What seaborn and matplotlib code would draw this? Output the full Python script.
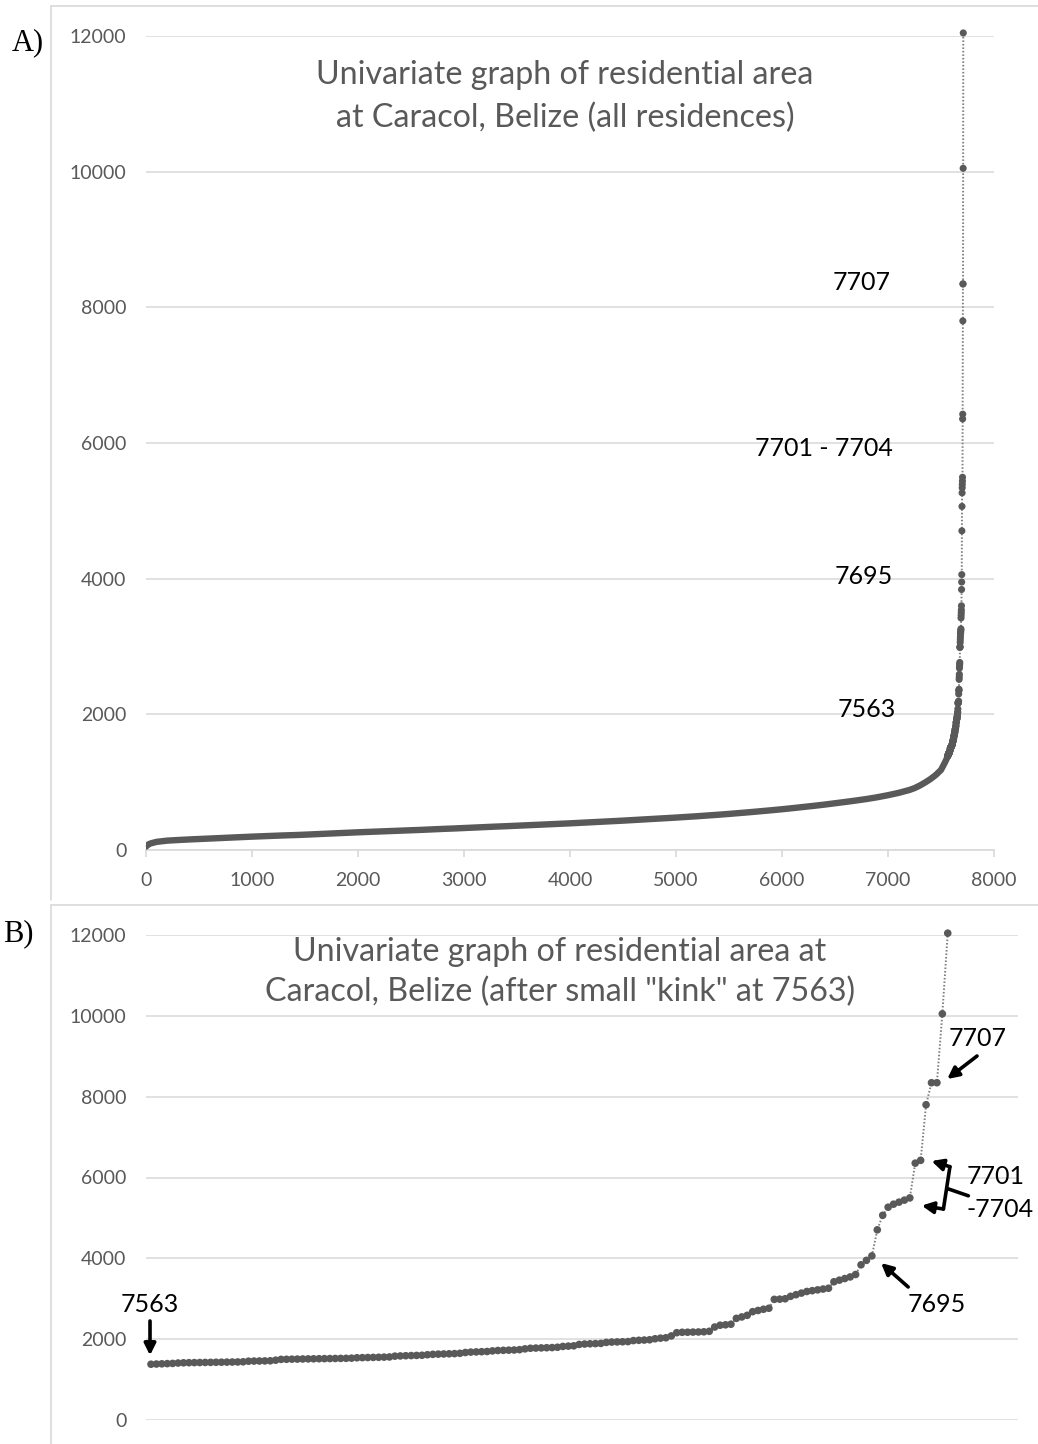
import matplotlib
matplotlib.use("Agg")
import matplotlib.pyplot as plt
from matplotlib.lines import Line2D
import seaborn as sns
import pandas as pd

# ---- data: residential area (m^2) ordered by rank ----
# lower ranks (sampled along the rank order)
rank_low = [0, 25, 50, 100, 200, 300, 400, 500, 600, 700, 800, 900, 1000,
            1100, 1200, 1300, 1400, 1500, 1600, 1700, 1800, 1900, 2000,
            2100, 2200, 2300, 2400, 2500, 2600, 2700, 2800, 2900, 3000,
            3100, 3200, 3300, 3400, 3500, 3600, 3700, 3800, 3900, 4000,
            4100, 4200, 4300, 4400, 4500, 4600, 4700, 4800, 4900, 5000,
            5100, 5200, 5300, 5400, 5500, 5600, 5700, 5800, 5900, 6000,
            6100, 6200, 6300, 6400, 6500, 6600, 6700, 6800, 6900, 7000,
            7100, 7200, 7250, 7300, 7350, 7400, 7450, 7500, 7520, 7540, 7555]
area_low = [50, 85, 100, 120, 138, 147, 155, 162, 169, 176, 183, 190, 197,
            203, 209, 215, 220, 226, 233, 240, 247, 254, 261,
            267, 273, 279, 285, 291, 297, 304, 311, 317, 324,
            331, 338, 345, 351, 358, 365, 372, 379, 386, 393,
            401, 409, 417, 425, 433, 442, 451, 460, 469, 478,
            488, 498, 509, 520, 532, 545, 558, 572, 586, 601,
            617, 634, 651, 669, 689, 709, 730, 752, 778, 808,
            842, 884, 912, 950, 995, 1045, 1105, 1180, 1240, 1300, 1350]

# upper ranks, one value per residence after the "kink" at 7563
rank_top = list(range(7563, 7711))
area_top = [1380, 1385, 1390, 1395, 1400, 1410, 1415, 1418, 1420, 1422, 1424,
            1426, 1428, 1430, 1432, 1434, 1436, 1440,
            1455, 1458, 1460, 1462, 1465,
            1480, 1500, 1502, 1505, 1507, 1510, 1512, 1514, 1516, 1518, 1520,
            1522, 1524, 1526, 1530,
            1540, 1543, 1546, 1549, 1552, 1556, 1560,
            1580, 1585, 1590, 1594, 1598, 1602,
            1615, 1625, 1630, 1634, 1638, 1642, 1650,
            1670, 1680, 1685, 1690, 1695,
            1710, 1720, 1724, 1728, 1732, 1740,
            1760, 1775, 1780, 1784, 1788, 1792, 1800,
            1820, 1828, 1835,
            1870, 1880, 1886, 1890, 1895,
            1920, 1928, 1932, 1936, 1940,
            1965, 1972, 1978, 1985,
            2010, 2025, 2035, 2080,
            2160, 2170, 2172, 2175, 2178, 2182, 2195,
            2300, 2345, 2355, 2370,
            2515, 2550, 2590, 2680, 2710, 2740, 2765,
            2985, 2990, 3000,
            3060, 3100, 3140, 3180, 3200, 3220, 3240, 3260,
            3420, 3460, 3500, 3540, 3600, 3840, 3950,
            4060, 4705, 5065, 5265, 5340, 5390, 5440, 5495,
            6355, 6425, 7800, 8345, 8345, 10050, 12045]

x_ticks_a = [0, 1000, 2000, 3000, 4000, 5000, 6000, 7000, 8000]
y_ticks = [0, 2000, 4000, 6000, 8000, 10000, 12000]

title_a = ["Univariate graph of residential area",
           "at Caracol, Belize (all residences)"]
title_b = ["Univariate graph of residential area at",
           'Caracol, Belize (after small "kink" at 7563)']

low = pd.DataFrame({"rank": rank_low, "area": area_low})
top = pd.DataFrame({"rank": rank_top, "area": area_top})
full = pd.concat([low, top], ignore_index=True)

# ---- style ----
sns.set_theme(style="white")
plt.rcParams["font.family"] = ["Lato", "DejaVu Sans"]

MARK = "#595959"
DOT = "#7f7f7f"
GRID = "#d9d9d9"
TXT = "#595959"
TICK_FS = 14
TITLE_FS = 23.2
NOTE_FS = 18

W, H = 1038, 1444
fig = plt.figure(figsize=(W / 100, H / 100), dpi=100)


def box(l, t, r, b):
    return [l / W, 1 - b / H, (r - l) / W, (b - t) / H]


def px_line(x0, y0, x1, y1):
    fig.add_artist(Line2D([x0 / W, x1 / W], [1 - y0 / H, 1 - y1 / H],
                          transform=fig.transFigure, color=GRID, lw=1.2))


# chart-area borders
px_line(51, 6, 1038, 6)
px_line(51, 6, 51, 900)
px_line(51, 905, 1038, 905)
px_line(51, 905, 51, 1444)

axA = fig.add_axes(box(146, 36, 994, 850))
axB = fig.add_axes(box(146, 935, 1018, 1420))

for ax in (axA, axB):
    ax.set_facecolor("none")
    ax.set_ylim(0, 12000)
    ax.set_yticks(y_ticks)
    ax.set_yticklabels([str(v) for v in y_ticks])
    ax.grid(axis="y", color=GRID, lw=1.1)
    ax.grid(axis="x", visible=False)
    for s in ("left", "right", "top", "bottom"):
        ax.spines[s].set_visible(False)
    ax.tick_params(axis="y", length=0, pad=14, labelsize=TICK_FS,
                   labelcolor=TXT)

# ---- panel A: all residences ----
sns.lineplot(data=full, x="rank", y="area", ax=axA, color=DOT, lw=1.4,
             linestyle=(0, (0.8, 1.0)), estimator=None, sort=True, zorder=2,
             clip_on=False)
sns.lineplot(data=low, x="rank", y="area", ax=axA, color=MARK, lw=4.6,
             estimator=None, sort=True, zorder=3,
             solid_capstyle="round", solid_joinstyle="round")
sns.scatterplot(data=top, x="rank", y="area", ax=axA, color=MARK, s=26,
                edgecolor="none", zorder=4, clip_on=False)
axA.set_xlim(0, 8000)
axA.set_xticks(x_ticks_a)
axA.set_xticklabels([str(v) for v in x_ticks_a])
axA.spines["bottom"].set_visible(True)
axA.spines["bottom"].set_color(GRID)
axA.spines["bottom"].set_linewidth(1.2)
axA.tick_params(axis="x", bottom=True, length=5, width=1.2, color=GRID,
                pad=11, labelsize=TICK_FS, labelcolor=TXT)
axA.set_xlabel("")
axA.set_ylabel("")

axA.text(3953, 11425, title_a[0], ha="center", va="center",
         fontsize=TITLE_FS, color=TXT)
axA.text(3953, 10791, title_a[1], ha="center", va="center",
         fontsize=TITLE_FS, color=TXT)

for label, xr, yv in [("7707", 7028, 8359), ("7701 - 7704", 7047, 5912),
                      ("7695", 7047, 4039), ("7563", 7075, 2075)]:
    axA.text(xr, yv, label, ha="right", va="center", fontsize=NOTE_FS,
             color="black")

# ---- panel B: after the kink ----
sns.lineplot(data=top, x="rank", y="area", ax=axB, color=DOT, lw=1.4,
             linestyle=(0, (0.8, 1.0)), estimator=None, sort=True, zorder=2,
             clip_on=False)
sns.scatterplot(data=top, x="rank", y="area", ax=axB, color=MARK, s=30,
                edgecolor="none", zorder=4, clip_on=False)
axB.set_xlim(7562.08, 7722.96)
axB.set_xticks([])
axB.set_xlabel("")
axB.set_ylabel("")

axB.text(7638.46, 11579, title_b[0], ha="center", va="center",
         fontsize=TITLE_FS, color=TXT)
axB.text(7638.46, 10590, title_b[1], ha="center", va="center",
         fontsize=TITLE_FS, color=TXT)

arrow = dict(arrowstyle="-|>", color="black", lw=2.6, mutation_scale=17,
             shrinkA=0, shrinkB=0)
plain = dict(arrowstyle="-", color="black", lw=2.6, shrinkA=0, shrinkB=0)

axB.text(7562.82, 2870, "7563", ha="center", va="center", fontsize=NOTE_FS,
         color="black")
axB.annotate("", xy=(7562.82, 1600), xytext=(7562.82, 2450),
             arrowprops=arrow)

axB.text(7708.0, 2870, "7695", ha="center", va="center", fontsize=NOTE_FS,
         color="black")
axB.annotate("", xy=(7697.7, 3884), xytext=(7702.7, 3291), arrowprops=arrow)

axB.text(7715.6, 9451, "7707", ha="center", va="center", fontsize=NOTE_FS,
         color="black")
axB.annotate("", xy=(7709.9, 8437), xytext=(7715.4, 9006), arrowprops=arrow)

axB.text(7713.55, 6037, "7701", ha="left", va="center", fontsize=NOTE_FS,
         color="black")
axB.text(7713.55, 5220, "-7704", ha="left", va="center", fontsize=NOTE_FS,
         color="black")
axB.annotate("", xy=(7707.0, 6408), xytext=(7710.4, 6267), arrowprops=arrow)
axB.annotate("", xy=(7705.2, 5305), xytext=(7709.2, 5220), arrowprops=arrow)
axB.annotate("", xy=(7709.2, 5220), xytext=(7710.4, 6267), arrowprops=plain)
axB.annotate("", xy=(7713.8, 5547), xytext=(7710.1, 5718), arrowprops=plain)

# panel letters
fig.text(12 / W, 1 - 43 / H, "A)", ha="left", va="center", fontsize=22,
         family=["Liberation Serif", "DejaVu Serif"], color="black")
fig.text(3 / W, 1 - 934 / H, "B)", ha="left", va="center", fontsize=22,
         family=["Liberation Serif", "DejaVu Serif"], color="black")

fig.savefig("out.png", dpi=100, facecolor="white")
